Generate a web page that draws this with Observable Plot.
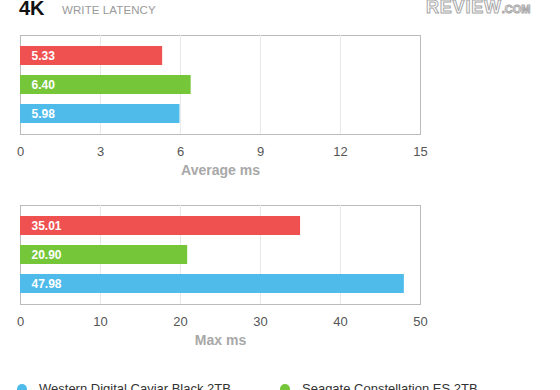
<!DOCTYPE html>
<html><head><meta charset="utf-8">
<script src="https://cdn.jsdelivr.net/npm/d3@7"></script>
<script src="https://cdn.jsdelivr.net/npm/@observablehq/plot@0.6"></script>
<style>
body{margin:0;background:#fff;font-family:"Liberation Sans",Arial,sans-serif;}
#root{position:relative;width:560px;height:390px;overflow:hidden;background:#fff;}
.chart{position:absolute;left:0;}
.chart g[aria-label="frame"]{filter:drop-shadow(0 4px 4px rgba(0,0,0,0.07));}
#title{position:absolute;left:19px;top:0px;font-size:20px;line-height:16px;font-weight:bold;color:#111;white-space:nowrap;}
#subtitle{position:absolute;left:62px;top:4px;font-size:11.5px;line-height:12px;color:#9a9a9a;white-space:nowrap;letter-spacing:0.1px;}
#logo{position:absolute;left:426px;top:0px;font-size:18px;line-height:15px;font-weight:bold;color:#fff;-webkit-text-stroke:1px #a8a8a8;white-space:nowrap;letter-spacing:0.8px;}
#logo small{font-size:11px;letter-spacing:0;}
#legend{position:absolute;left:0;top:381px;width:560px;font-size:13px;color:#333;}
.li{position:absolute;white-space:nowrap;}
.dot{position:absolute;width:10px;height:10px;border-radius:50%;top:3px;}
</style></head><body><div id="root">
<div id="title">4K</div>
<div id="subtitle">WRITE LATENCY</div>
<div id="logo">REVIEW<small>.COM</small></div>
</div>
<script>
const drives = ["Third drive", "Seagate Constellation ES 2TB", "Western Digital Caviar Black 2TB"];
const colors = ["#ef5050", "#76c63a", "#4ebbeb"];
const averageMs = [5.33, 6.40, 5.98];
const maxMs = [35.01, 20.90, 47.98];
const averageTicks = [0, 3, 6, 9, 12, 15];
const maxTicks = [0, 10, 20, 30, 40, 50];
const legendItems = ["Western Digital Caviar Black 2TB", "Seagate Constellation ES 2TB"];
const legendColors = ["#4ebbeb", "#76c63a"];

const root = document.getElementById("root");

function chart(values, ticks, label, top) {
  const data = drives.map((d, i) => ({drive: d, value: values[i]}));
  const svg = Plot.plot({
    width: 560, height: 185,
    marginLeft: 20, marginRight: 140, marginTop: 35, marginBottom: 51,
    style: {fontFamily: "Liberation Sans, Arial, sans-serif", background: "transparent"},
    x: {domain: [0, ticks[ticks.length - 1]], axis: null},
    y: {domain: drives, paddingInner: 1/3, paddingOuter: 0.317, axis: null},
    color: {domain: drives, range: colors},
    marks: [
      Plot.frame({stroke: "#bbb", strokeWidth: 1}),
      Plot.ruleX(ticks.slice(1, -1), {stroke: "#e8e8e8", strokeWidth: 1}),
      Plot.barX(data, {x: "value", y: "drive", fill: "drive"}),
      Plot.text(data, {x: 0, y: "drive", text: d => d.value.toFixed(2), dx: 11, textAnchor: "start", fill: "white", fontSize: 12, fontWeight: 600}),
      Plot.axisX(ticks, {tickSize: 0, tickPadding: 12, fontSize: 13, fill: "#555", label: null}),
      Plot.text([label], {frameAnchor: "bottom", dy: 36, lineAnchor: "middle", fill: "#a8a8a8", fontSize: 14, fontWeight: "bold"})
    ]
  });
  svg.classList.add("chart");
  svg.style.top = top + "px";
  root.appendChild(svg);
}
chart(averageMs, averageTicks, "Average ms", 0);
chart(maxMs, maxTicks, "Max ms", 170);

const legend = document.createElement("div");
legend.id = "legend";
const xs = [17, 280];
legendItems.forEach((name, i) => {
  const item = document.createElement("div");
  item.className = "li";
  item.style.left = xs[i] + "px";
  const dot = document.createElement("span");
  dot.className = "dot";
  dot.style.background = legendColors[i];
  dot.style.left = "0px";
  const t = document.createElement("span");
  t.textContent = name;
  t.style.marginLeft = "22px";
  item.appendChild(dot);
  item.appendChild(t);
  legend.appendChild(item);
});
root.appendChild(legend);
</script></body></html>
